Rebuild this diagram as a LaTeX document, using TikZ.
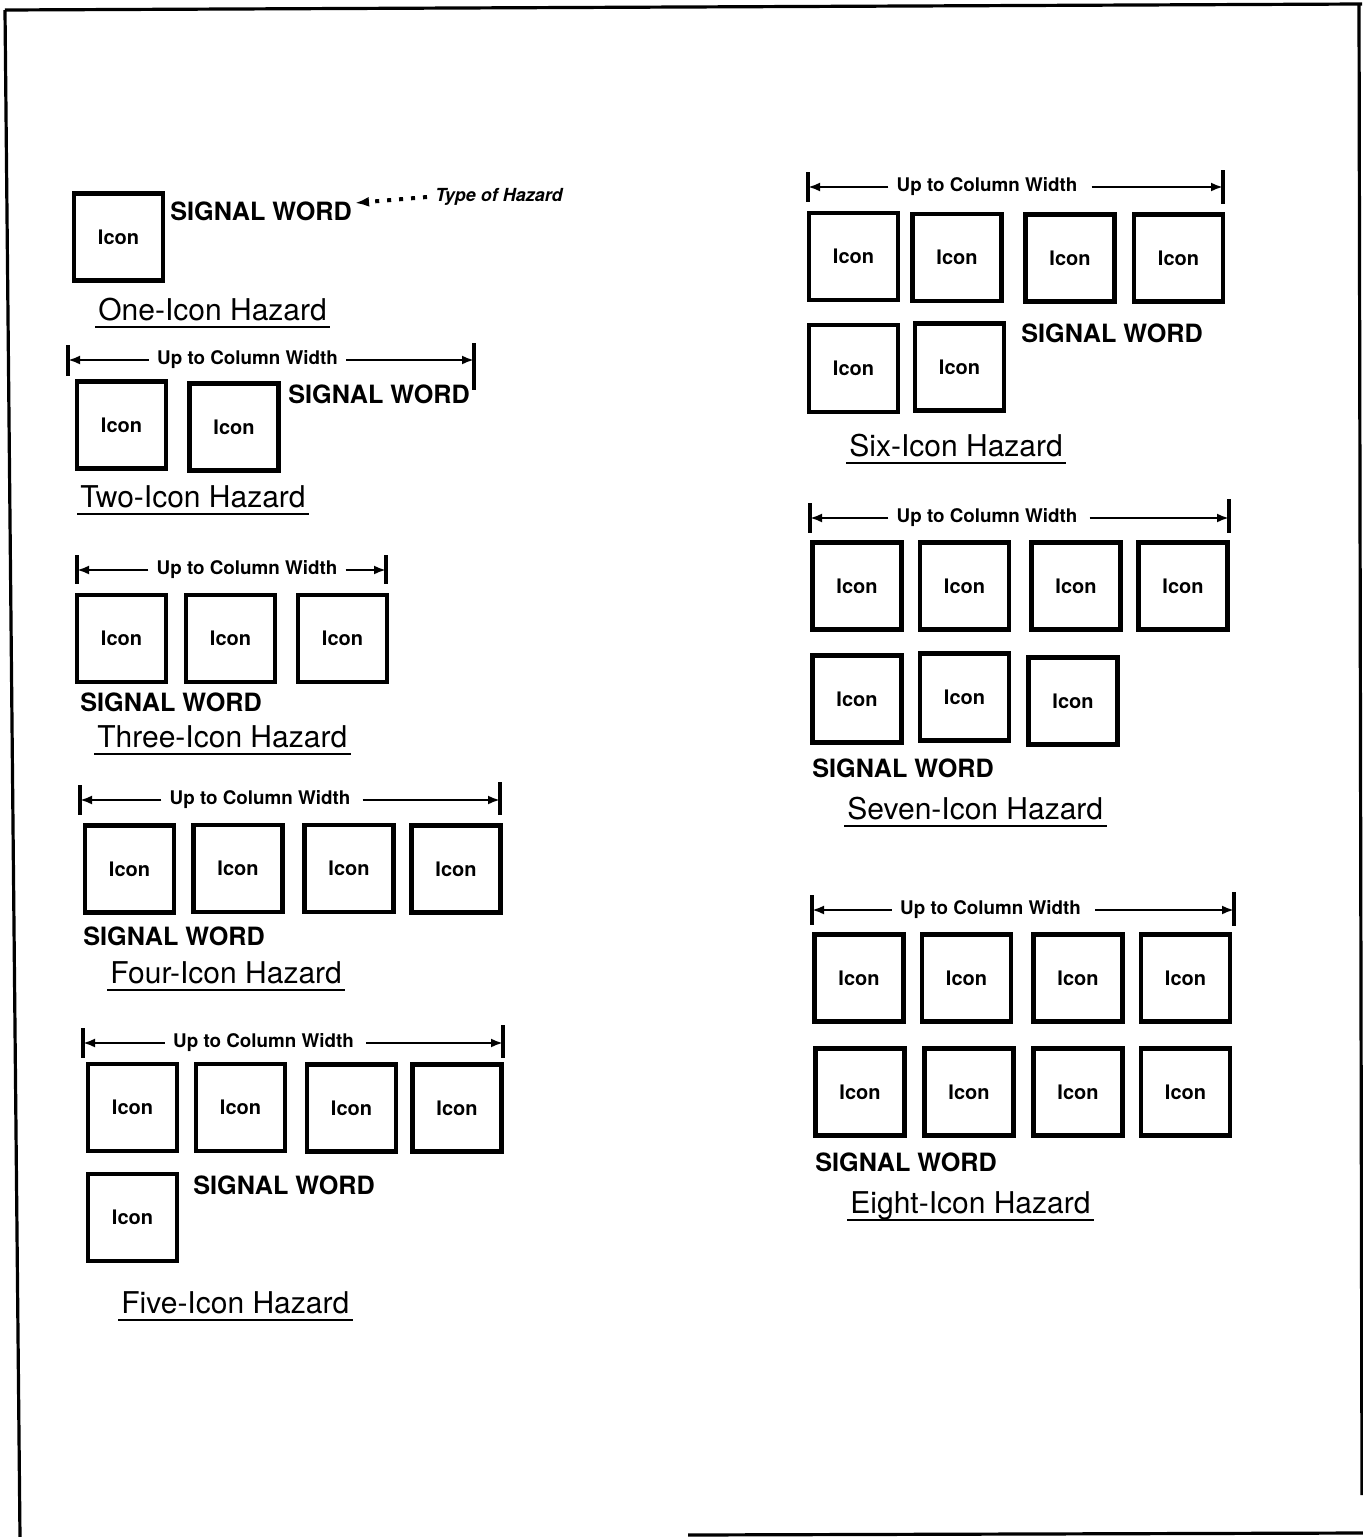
\documentclass[tikz,border=0pt]{standalone}
\usepackage{fontspec}
\setmainfont{TeX Gyre Heros}
\usetikzlibrary{arrows.meta,calc}
\tikzset{
  iconbox/.style={draw, line width=2.2pt, minimum width=44.5pt, minimum height=43.5pt, inner sep=0pt, font=\fontsize{10}{12}\selectfont\bfseries},
  sigword/.style={anchor=west, inner sep=0pt, font=\fontsize{12.6}{15}\selectfont\bfseries},
  htitle/.style={anchor=base west, inner sep=0pt, font=\fontsize{15}{18}\selectfont},
  uline/.style={line width=1.2pt},
  dimtext/.style={inner sep=0pt, font=\fontsize{9.4}{11}\selectfont\bfseries},
  dimline/.style={line width=1.2pt, -{Latex[length=6pt,width=4.5pt]}},
  dimtick/.style={line width=1.6pt},
  pageframe/.style={line width=1.6pt},
  typetext/.style={anchor=west, inner sep=0pt, font=\fontsize{9}{11}\selectfont\bfseries\itshape},
}
\newcommand{\hzunderline}[1]{\draw[uline] ([xshift=-1.5pt,yshift=-3.5pt]#1.base west) -- ([xshift=1.5pt,yshift=-3.5pt]#1.base east);}
\begin{document}
\begin{tikzpicture}[x=0.5pt,y=-0.5pt]
\useasboundingbox (0,0) rectangle (1363,1537);
% page frame
\draw[pageframe] (5,10) -- (1362,4);
\draw[pageframe] (5,10) -- (20,1537);
\draw[pageframe] (1359,5) -- (1362,1495);
\draw[pageframe] (688,1535) -- (1363,1533);

% ---------- One-Icon ----------
\node[iconbox] (a1) at (118.5,237) {Icon};
\node[sigword] (sa) at (170,211) {SIGNAL WORD};
\node[typetext] (toh) at (435,197) {Type of Hazard};
\coordinate (sapt) at (355,203);
\draw[line width=2pt, dash pattern=on 2pt off 4pt, -{Latex[length=7pt,width=5pt]}] ([xshift=-4pt]toh.west) -- (sapt);
\node[htitle] (ta) at (98,320) {One-Icon Hazard};
\hzunderline{ta}

% ---------- Two-Icon ----------
\draw[dimtick] (68,345) -- (68,376);
\draw[dimtick] (474,343) -- (474,390);
\coordinate (bL) at (68,360);
\coordinate (bR) at (474,360);
\node[dimtext] (bt) at (247.5,360) {Up to Column Width};
\draw[dimline] ([xshift=-4pt]bt.west) -- (bL);
\draw[dimline] ([xshift=4pt]bt.east) -- (bR);
\node[iconbox] (b1) at (121.5,425) {Icon};
\node[iconbox] (b2) at (234,427) {Icon};
\node[sigword] (sb) at (288,394) {SIGNAL WORD};
\node[htitle] (tb) at (80,507) {Two-Icon Hazard};
\hzunderline{tb}

% ---------- Three-Icon ----------
\draw[dimtick] (77,555) -- (77,584);
\draw[dimtick] (386,555) -- (386,584);
\coordinate (cL) at (77,570);
\coordinate (cR) at (386,570);
\node[dimtext] (ct) at (247,570) {Up to Column Width};
\draw[dimline] ([xshift=-4pt]ct.west) -- (cL);
\draw[dimline] ([xshift=4pt]ct.east) -- (cR);
\node[iconbox] (c1) at (121.5,638.5) {Icon};
\node[iconbox] (c2) at (230.5,638.5) {Icon};
\node[iconbox] (c3) at (342.5,638.5) {Icon};
\node[sigword] (sc) at (80,702) {SIGNAL WORD};
\node[htitle] (tc) at (97,747) {Three-Icon Hazard};
\hzunderline{tc}

% ---------- Four-Icon ----------
\draw[dimtick] (80,785) -- (80,815);
\draw[dimtick] (500,782) -- (500,815);
\coordinate (dL) at (80,800);
\coordinate (dR) at (500,800);
\node[dimtext] (dt) at (260,800) {Up to Column Width};
\draw[dimline] ([xshift=-4pt]dt.west) -- (dL);
\draw[dimline] ([xshift=6pt]dt.east) -- (dR);
\node[iconbox] (d1) at (129.5,869) {Icon};
\node[iconbox] (d2) at (238,868.5) {Icon};
\node[iconbox] (d3) at (349,868.5) {Icon};
\node[iconbox] (d4) at (456,869) {Icon};
\node[sigword] (sd) at (83,936) {SIGNAL WORD};
\node[htitle] (td) at (110,983) {Four-Icon Hazard};
\hzunderline{td}

% ---------- Five-Icon ----------
\draw[dimtick] (83,1028) -- (83,1058);
\draw[dimtick] (503,1025) -- (503,1058);
\coordinate (eL) at (83,1043);
\coordinate (eR) at (503,1043);
\node[dimtext] (et) at (263.5,1043) {Up to Column Width};
\draw[dimline] ([xshift=-4pt]et.west) -- (eL);
\draw[dimline] ([xshift=6pt]et.east) -- (eR);
\node[iconbox] (e1) at (132.5,1107.5) {Icon};
\node[iconbox] (e2) at (240.5,1107.5) {Icon};
\node[iconbox] (e3) at (351.5,1108) {Icon};
\node[iconbox] (e4) at (457,1108) {Icon};
\node[iconbox] (e5) at (132.5,1217.5) {Icon};
\node[sigword] (se) at (193,1185) {SIGNAL WORD};
\node[htitle] (te) at (121,1313) {Five-Icon Hazard};
\hzunderline{te}

% ---------- Six-Icon ----------
\draw[dimtick] (808,172) -- (808,202);
\draw[dimtick] (1223,170) -- (1223,204);
\coordinate (fL) at (808,187);
\coordinate (fR) at (1223,187);
\node[dimtext] (ft) at (987,187) {Up to Column Width};
\draw[dimline] ([xshift=-4pt]ft.west) -- (fL);
\draw[dimline] ([xshift=7pt]ft.east) -- (fR);
\node[iconbox] (f1) at (853.5,256.5) {Icon};
\node[iconbox] (f2) at (957,257.5) {Icon};
\node[iconbox] (f3) at (1070,258) {Icon};
\node[iconbox] (f4) at (1178.5,258) {Icon};
\node[iconbox] (f5) at (853.5,368.5) {Icon};
\node[iconbox] (f6) at (959.5,367) {Icon};
\node[sigword] (sf) at (1021,333) {SIGNAL WORD};
\node[htitle] (tf) at (849,456) {Six-Icon Hazard};
\hzunderline{tf}

% ---------- Seven-Icon ----------
\draw[dimtick] (810,503) -- (810,533);
\draw[dimtick] (1229,499) -- (1229,533);
\coordinate (gL) at (810,518);
\coordinate (gR) at (1229,518);
\node[dimtext] (gt) at (987,518) {Up to Column Width};
\draw[dimline] ([xshift=-4pt]gt.west) -- (gL);
\draw[dimline] ([xshift=6pt]gt.east) -- (gR);
\node[iconbox] (g1) at (857,586) {Icon};
\node[iconbox] (g2) at (964.5,586) {Icon};
\node[iconbox] (g3) at (1076,586) {Icon};
\node[iconbox] (g4) at (1183,586) {Icon};
\node[iconbox] (g5) at (857,699) {Icon};
\node[iconbox] (g6) at (964.5,697) {Icon};
\node[iconbox] (g7) at (1073,701) {Icon};
\node[sigword] (sg) at (812,768) {SIGNAL WORD};
\node[htitle] (tg) at (847,819) {Seven-Icon Hazard};
\hzunderline{tg}

% ---------- Eight-Icon ----------
\draw[dimtick] (812,895) -- (812,925);
\draw[dimtick] (1234,892) -- (1234,926);
\coordinate (hL) at (812,910);
\coordinate (hR) at (1234,910);
\node[dimtext] (ht) at (990.5,910) {Up to Column Width};
\draw[dimline] ([xshift=-4pt]ht.west) -- (hL);
\draw[dimline] ([xshift=7pt]ht.east) -- (hR);
\node[iconbox] (h1) at (859,978) {Icon};
\node[iconbox] (h2) at (966.5,978) {Icon};
\node[iconbox] (h3) at (1078,978) {Icon};
\node[iconbox] (h4) at (1185.5,978) {Icon};
\node[iconbox] (h5) at (860,1092) {Icon};
\node[iconbox] (h6) at (969,1092) {Icon};
\node[iconbox] (h7) at (1078,1092) {Icon};
\node[iconbox] (h8) at (1185.5,1092) {Icon};
\node[sigword] (sh) at (815,1162) {SIGNAL WORD};
\node[htitle] (th) at (850,1213) {Eight-Icon Hazard};
\hzunderline{th}
\end{tikzpicture}
\end{document}
